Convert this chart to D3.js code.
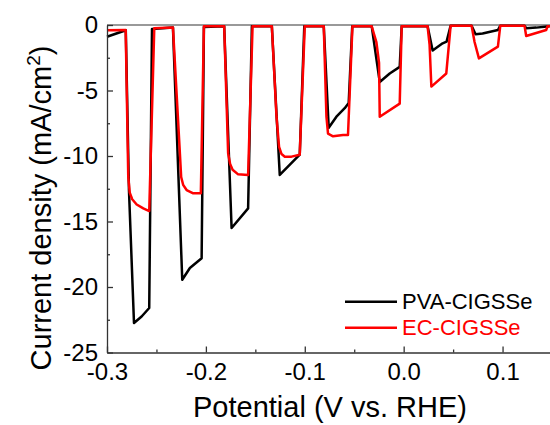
<!DOCTYPE html>
<html lang="en">
<head>
	<meta charset="UTF-8">
	<title>Chopped LSV</title>
	<script src="https://d3js.org/d3.v7.min.js"></script>
	<style>
		body{
			margin: 0px;
			background: #fff;
		}
		text{
			font-family: "Liberation Sans", Arial, sans-serif;
			fill: #000;
		}
	</style>
</head>
<body>
	<svg></svg>
	<script>
		// potential (V vs RHE), current density (mA/cm2)
		var pva = [
			[-0.300,-0.90],[-0.281,-0.40],[-0.2778,-12.6],[-0.2727,-22.75],[-0.2650,-22.25],[-0.2573,-21.6],[-0.2545,-0.3],
			[-0.2333,-0.2],[-0.2239,-19.45],[-0.2162,-18.55],[-0.2043,-17.8],[-0.2020,-0.15],
			[-0.1815,-0.1],[-0.1740,-15.5],[-0.1573,-14.0],[-0.1535,-0.1],
			[-0.1333,-0.1],[-0.1253,-11.45],[-0.1051,-9.9],[-0.1005,-0.1],
			[-0.0808,-0.1],[-0.0758,-7.85],[-0.0680,-7.0],[-0.0596,-6.35],[-0.0556,-5.95],[-0.0520,-0.1],
			[-0.0323,-0.1],[-0.0242,-4.35],[-0.0141,-3.7],[-0.0040,-3.2],[-0.0020,-0.1],
			[0.0242,-0.1],[0.0293,-1.95],[0.0394,-1.4],[0.0434,-1.27],[0.0475,-0.05],
			[0.0687,-0.05],[0.0727,-0.7],[0.0798,-0.65],[0.0953,-0.38],[0.0977,-0.05],
			[0.1222,-0.05],[0.1239,-0.25],[0.1340,-0.2],[0.1475,-0.1]
		];
		var ec = [
			[-0.300,-0.40],[-0.2811,-0.38],[-0.2785,-11.6],[-0.2770,-12.8],[-0.2745,-13.3],[-0.2700,-13.7],[-0.2633,-14.0],[-0.2573,-14.2],[-0.2522,-0.25],
			[-0.2333,-0.2],[-0.2263,-9.8],[-0.2250,-11.6],[-0.2230,-12.2],[-0.2195,-12.6],[-0.2128,-12.85],[-0.2051,-12.85],[-0.2020,-0.1],
			[-0.1815,-0.1],[-0.1775,-9.8],[-0.1755,-10.6],[-0.1730,-11.05],[-0.1674,-11.4],[-0.1573,-11.45],[-0.1528,-0.1],
			[-0.1333,-0.1],[-0.1286,-7.0],[-0.1260,-9.3],[-0.1235,-9.85],[-0.1202,-10.05],[-0.1134,-10.05],[-0.1051,-9.9],[-0.1000,-0.1],
			[-0.0808,-0.1],[-0.0781,-7.0],[-0.0765,-8.3],[-0.0714,-8.5],[-0.0613,-8.4],[-0.0563,-8.4],[-0.0518,-0.1],
			[-0.0323,-0.1],[-0.0276,-1.3],[-0.0249,-2.9],[-0.0242,-7.0],[-0.0040,-6.0],[-0.0020,-0.1],
			[0.0242,-0.1],[0.0262,-1.5],[0.0280,-4.7],[0.0431,-3.7],[0.0475,-0.05],
			[0.0687,-0.05],[0.0717,-1.3],[0.0761,-2.55],[0.0953,-1.65],[0.0977,-0.05],
			[0.1222,-0.05],[0.1239,-0.84],[0.1441,-0.38],[0.1455,-0.1],[0.1500,-0.1]
		];
		var series = [
			{name: "PVA-CIGSSe", color: "#000", data: pva},
			{name: "EC-CIGSSe", color: "#f00", data: ec}
		];
		var xTicks = [-0.3, -0.2, -0.1, 0.0, 0.1],
			xMinor = [-0.25, -0.15, -0.05, 0.05],
			yTicks = [0, -5, -10, -15, -20, -25],
			yMinor = [-2.5, -7.5, -12.5, -17.5, -22.5];

		var w = 550,
			h = 425,
			mLeft = 107, mRight = 552, mTop = 25, mBottom = 352.5,
			svg = d3.select("svg").attr("width", w).attr("height", h);

		var x = d3.scaleLinear().domain([-0.3, 0.15]).range([mLeft, mRight]),
			y = d3.scaleLinear().domain([-25, 0]).range([mBottom, mTop]);

		var hyphen = function(f) { return function(d) { return f(d).replace("\u2212", "-"); }; };

		// frame top
		svg.append("line")
			.attr("x1", mLeft).attr("x2", w).attr("y1", mTop).attr("y2", mTop)
			.attr("stroke", "#777").attr("stroke-width", 1.3);

		var line = d3.line().x(d => x(d[0])).y(d => y(d[1]));
		svg.selectAll("path.s")
			.data(series)
			.enter().append("path")
			.attr("class", "s")
			.attr("d", d => line(d.data))
			.attr("fill", "none")
			.attr("stroke", d => d.color)
			.attr("stroke-width", 2.5)
			.attr("stroke-linejoin", "round");

		// axes, ticks pointing inward
		svg.append("g").attr("transform", "translate(0," + mBottom + ")")
			.call(d3.axisBottom(x).tickValues(xTicks).tickSize(-6).tickSizeOuter(0).tickPadding(10).tickFormat(hyphen(d3.format(".1f"))));
		svg.append("g").attr("transform", "translate(0," + mBottom + ")")
			.call(d3.axisBottom(x).tickValues(xMinor).tickSize(-3).tickSizeOuter(0).tickFormat(""))
			.select(".domain").remove();
		svg.append("g").attr("transform", "translate(" + mLeft + ",0)")
			.call(d3.axisLeft(y).tickValues(yTicks).tickSize(-6).tickSizeOuter(0).tickPadding(9).tickFormat(hyphen(d3.format("d"))));
		svg.append("g").attr("transform", "translate(" + mLeft + ",0)")
			.call(d3.axisLeft(y).tickValues(yMinor).tickSize(-3).tickSizeOuter(0).tickFormat(""))
			.select(".domain").remove();

		svg.selectAll(".domain, .tick line").attr("stroke", "#333").attr("stroke-width", 1.3);
		svg.selectAll(".tick text")
			.attr("font-family", "'Liberation Sans', Arial, sans-serif")
			.attr("font-size", 24)
			.attr("fill", "#000");

		// axis titles
		svg.append("text")
			.attr("x", 330).attr("y", 417)
			.attr("text-anchor", "middle")
			.attr("font-size", 29)
			.text("Potential (V vs. RHE)");

		var yt = svg.append("text")
			.attr("transform", "translate(51,208) rotate(-90)")
			.attr("text-anchor", "middle")
			.attr("font-size", 29);
		yt.append("tspan").text("Current density (mA/cm");
		yt.append("tspan").attr("font-size", 19).attr("dy", -11).text("2");
		yt.append("tspan").attr("dy", 11).text(")");

		// legend
		var lg = svg.selectAll("g.lg")
			.data(series)
			.enter().append("g")
			.attr("class", "lg")
			.attr("transform", (d, i) => "translate(345," + (301.7 + i * 26) + ")");
		lg.append("line")
			.attr("x1", 0).attr("x2", 52)
			.attr("stroke", d => d.color).attr("stroke-width", 2.5);
		lg.append("text")
			.attr("x", 57).attr("y", 7.5)
			.attr("font-size", 22)
			.style("fill", d => d.color)
			.text(d => d.name);
	</script>
</body>
</html>
